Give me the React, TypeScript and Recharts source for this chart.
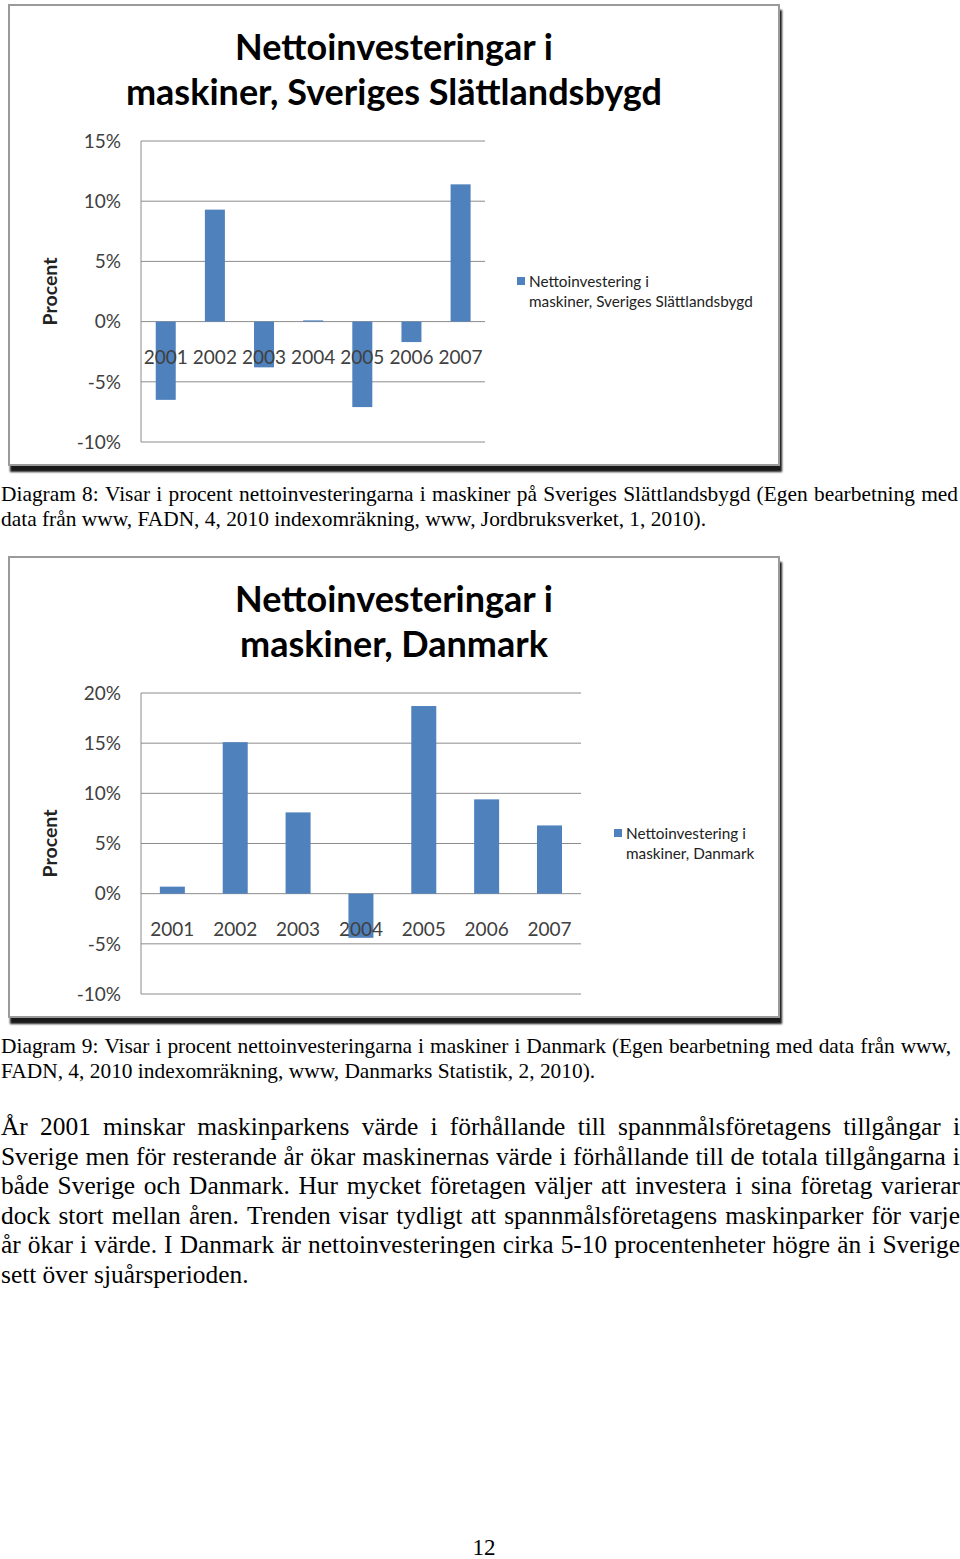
import React from 'react';
import { BarChart, Bar, XAxis, YAxis, CartesianGrid, Legend } from 'recharts';

const years = ['2001', '2002', '2003', '2004', '2005', '2006', '2007'];
const swedenValues = [-6.5, 9.3, -3.8, 0.1, -7.1, -1.7, 11.4];
const denmarkValues = [0.7, 15.1, 8.1, -4.4, 18.7, 9.4, 6.8];
const swedenTicks = [-10, -5, 0, 5, 10, 15];
const denmarkTicks = [-10, -5, 0, 5, 10, 15, 20];

const swedenTitle = ['Nettoinvesteringar i', 'maskiner, Sveriges Slättlandsbygd'];
const denmarkTitle = ['Nettoinvesteringar i', 'maskiner, Danmark'];
const swedenLegend = ['Nettoinvestering i', 'maskiner, Sveriges Slättlandsbygd'];
const denmarkLegend = ['Nettoinvestering i', 'maskiner, Danmark'];

const caption8 = [
  'Diagram 8: Visar i procent  nettoinvesteringarna i maskiner på Sveriges Slättlandsbygd (Egen bearbetning  med',
  'data från www, FADN, 4, 2010 indexomräkning, www, Jordbruksverket, 1, 2010).',
];
const caption9 = [
  'Diagram 9: Visar i procent nettoinvesteringarna i maskiner i Danmark (Egen bearbetning  med data från www,',
  'FADN, 4, 2010 indexomräkning, www, Danmarks Statistik, 2, 2010).',
];
const paragraph = [
  'År 2001 minskar maskinparkens värde i förhållande till spannmålsföretagens tillgångar i',
  'Sverige men för resterande år ökar maskinernas värde i förhållande till de totala tillgångarna i',
  'både Sverige och Danmark. Hur mycket företagen väljer att investera i sina företag varierar',
  'dock stort mellan åren. Trenden visar tydligt att spannmålsföretagens maskinparker för varje',
  'år ökar i värde. I Danmark är nettoinvesteringen cirka 5-10 procentenheter högre än i Sverige',
  'sett över sjuårsperioden.',
];
const pageNumber = '12';

const BAR_COLOR = '#4F81BD';
const GRID_COLOR = '#8c8c8c';
const TEXT_COLOR = '#404040';
const CHART_FONT = 'Lato, "Open Sans", sans-serif';
const SERIF = '"Liberation Serif", "Times New Roman", serif';

const BarWithYear = (props: any) => {
  const { x, y, width, height, fill, payload } = props;
  const top = Math.min(y, y + height);
  const h = Math.abs(height);
  const zeroY = payload.value >= 0 ? top + h : top;
  return (
    <g>
      <rect x={x} y={top} width={width} height={h} fill={fill} />
      <text
        x={x + width / 2}
        y={zeroY + 35}
        textAnchor="middle"
        dominantBaseline="central"
        fontFamily={CHART_FONT}
        fontSize={19}
        fill={TEXT_COLOR}
      >
        {payload.year}
      </text>
    </g>
  );
};

const makeLegend = (lines: string[]) => () => (
  <div style={{ position: 'relative', fontFamily: CHART_FONT, fontSize: 15.3, lineHeight: '20px', color: '#222' }}>
    <div style={{ position: 'absolute', left: 0, top: 6, width: 8, height: 8, background: BAR_COLOR }} />
    <div style={{ paddingLeft: 12, whiteSpace: 'nowrap' }}>
      {lines.map((l, i) => (
        <div key={i}>{l}</div>
      ))}
    </div>
  </div>
);

type ChartBoxProps = {
  top: number;
  title: string[];
  legend: string[];
  values: number[];
  ticks: number[];
  rightMargin: number;
  legendLeft: number;
  legendTop: number;
};

const ChartBox = ({ top, title, legend, values, ticks, rightMargin, legendLeft, legendTop }: ChartBoxProps) => {
  const data = years.map((year, i) => ({ year, value: values[i] }));
  return (
    <div
      style={{
        position: 'absolute',
        left: 8,
        top,
        width: 772,
        height: 462,
        boxSizing: 'border-box',
        border: '2px solid #9a9a9a',
        background: '#fff',
        boxShadow: '2px 6px 2px rgba(0,0,0,0.9)',
      }}
    >
      <div
        style={{
          position: 'absolute',
          left: 0,
          top: 17.5,
          width: 768,
          textAlign: 'center',
          fontFamily: CHART_FONT,
          fontWeight: 700,
          fontSize: 36,
          lineHeight: '45.5px',
          color: '#000',
          zIndex: 2,
        }}
      >
        {title.map((t, i) => (
          <div key={i}>{t}</div>
        ))}
      </div>
      <BarChart
        width={768}
        height={458}
        data={data}
        margin={{ top: 135, right: rightMargin, bottom: 22, left: 20 }}
        barCategoryGap="30%"
      >
        <CartesianGrid horizontal vertical={false} stroke={GRID_COLOR} strokeWidth={1} />
        <XAxis dataKey="year" hide />
        <YAxis
          type="number"
          domain={[ticks[0], ticks[ticks.length - 1]]}
          ticks={ticks}
          width={111}
          tickLine={false}
          tickSize={0}
          tickMargin={20}
          axisLine={{ stroke: GRID_COLOR }}
          tickFormatter={(v: number) => `${v}%`}
          tick={{ fontFamily: CHART_FONT, fontSize: 19, fill: TEXT_COLOR }}
          interval={0}
          label={{
            value: 'Procent',
            angle: -90,
            position: 'insideLeft',
            offset: 20,
            style: { textAnchor: 'middle', fontFamily: CHART_FONT, fontWeight: 700, fontSize: 19.5, fill: '#222' },
          }}
        />
        <Legend
          layout="vertical"
          align="center"
          verticalAlign="middle"
          content={makeLegend(legend)}
          wrapperStyle={{ left: legendLeft, top: legendTop, width: 260 }}
        />
        <Bar dataKey="value" fill={BAR_COLOR} isAnimationActive={false} shape={BarWithYear} />
      </BarChart>
    </div>
  );
};

const JustifiedLine = ({ text, justify, gap }: { text: string; justify: boolean; gap: string }) => {
  const words = text.split(/ +/);
  return (
    <div
      style={{
        display: 'flex',
        flexWrap: 'nowrap',
        whiteSpace: 'nowrap',
        justifyContent: justify ? 'space-between' : 'flex-start',
        columnGap: justify ? 0 : gap,
      }}
    >
      {words.map((w, i) => (
        <span key={i}>{w}</span>
      ))}
    </div>
  );
};

const TextBlock = ({
  top,
  lines,
  fontSize,
  lineHeight,
  width,
}: {
  top: number;
  lines: string[];
  fontSize: number;
  lineHeight: string;
  width: number;
}) => (
  <div
    style={{
      position: 'absolute',
      left: 1,
      top,
      width,
      fontFamily: SERIF,
      fontSize,
      lineHeight,
      color: '#000',
    }}
  >
    {lines.map((l, i) => (
      <JustifiedLine key={i} text={l} justify={i < lines.length - 1} gap="0.25em" />
    ))}
  </div>
);

export default function App() {
  return (
    <div style={{ position: 'absolute', left: 0, top: 0, width: 960, height: 1559, background: '#fff', overflow: 'hidden' }}>
      <ChartBox
        top={4}
        title={swedenTitle}
        legend={swedenLegend}
        values={swedenValues}
        ticks={swedenTicks}
        rightMargin={293}
        legendLeft={507}
        legendTop={265}
      />
      <TextBlock top={481.5} lines={caption8} fontSize={21.4} lineHeight="25px" width={957} />
      <ChartBox
        top={556}
        title={denmarkTitle}
        legend={denmarkLegend}
        values={denmarkValues}
        ticks={denmarkTicks}
        rightMargin={197}
        legendLeft={604}
        legendTop={265}
      />
      <TextBlock top={1033.5} lines={caption9} fontSize={21.4} lineHeight="25px" width={950} />
      <div style={{ position: 'absolute', left: 0, top: 1112, width: 960 }}>
        <TextBlock top={0} lines={paragraph} fontSize={25.4} lineHeight="29.6px" width={959} />
      </div>
      <div
        style={{
          position: 'absolute',
          left: 0,
          top: 1534,
          width: 968,
          textAlign: 'center',
          fontFamily: SERIF,
          fontSize: 23,
          lineHeight: '28px',
          color: '#000',
        }}
      >
        {pageNumber}
      </div>
    </div>
  );
}
